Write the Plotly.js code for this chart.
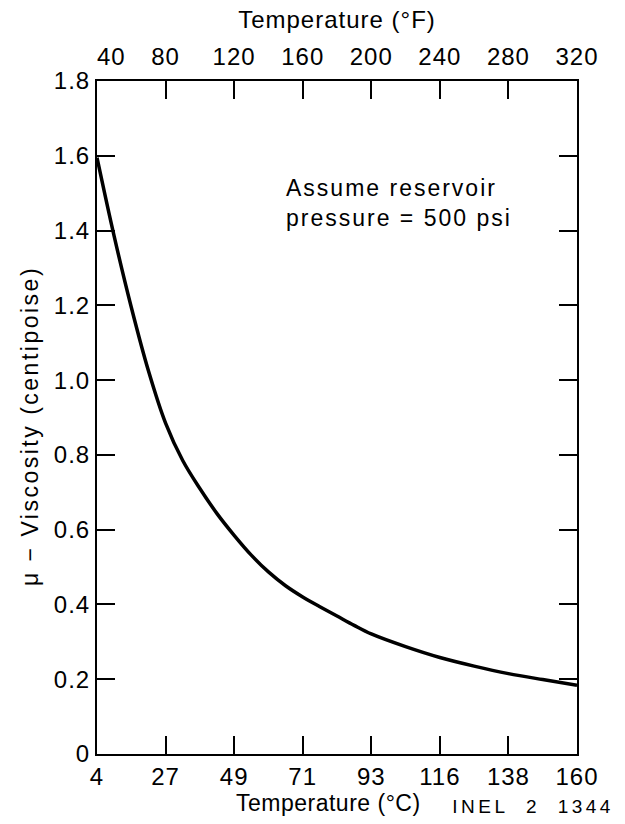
<!DOCTYPE html>
<html>
<head>
<meta charset="utf-8">
<script src="https://cdn.plot.ly/plotly-3.0.1.min.js"></script>
<style>
  html, body { margin: 0; padding: 0; background: #fff; }
  #chart { width: 625px; height: 824px; }
  /* typewriter-style tracking used throughout the figure */
  #chart .main-svg text { letter-spacing: 1px; }
  #chart g.annotation[data-index="0"] text { letter-spacing: 2px; }
  #chart g.annotation[data-index="1"] text { letter-spacing: 2.5px; }
  #chart g.annotation[data-index="2"] text { letter-spacing: 0.5px; }
  #chart g.annotation[data-index="3"] text { letter-spacing: 3.5px; }
</style>
</head>
<body>
<div id="chart"></div>
<script>
// Water viscosity versus temperature at 500 psi reservoir pressure
const tempF = [40, 50, 60, 70, 80, 90, 100, 110, 120, 130, 140, 150, 160, 170, 180, 190, 200, 220, 240, 260, 280, 300, 320];
const viscosity = [1.595, 1.385, 1.195, 1.025, 0.885, 0.785, 0.71, 0.643, 0.585, 0.532, 0.487, 0.45, 0.42, 0.394, 0.369, 0.344, 0.321, 0.287, 0.258, 0.235, 0.215, 0.199, 0.184];

// Shared tick positions (°F) with their Celsius equivalents for the bottom axis
const tickF = [40, 80, 120, 160, 200, 240, 280, 320];
const tickC = ['4', '27', '49', '71', '93', '116', '138', '160'];
const tickFText = ['\u2007\u200740', '80', '120', '160', '200', '240', '280', '320'];
const yTicks = [0, 0.2, 0.4, 0.6, 0.8, 1.0, 1.2, 1.4, 1.6, 1.8];
const yTickText = ['0', '0.2', '0.4', '0.6', '0.8', '1.0', '1.2', '1.4', '1.6', '1.8'];

const FONT = '"Liberation Sans", Arial, Helvetica, sans-serif';

const traces = [
  {
    x: tempF, y: viscosity, xaxis: 'x', yaxis: 'y',
    mode: 'lines', line: { color: '#000', width: 3.5, shape: 'spline', smoothing: 1 },
    hoverinfo: 'skip', showlegend: false
  },
  {
    // carrier trace so the °F axis on top is laid out
    x: tempF, y: viscosity, xaxis: 'x2', yaxis: 'y',
    mode: 'lines', line: { color: 'rgba(0,0,0,0)', width: 0 },
    hoverinfo: 'skip', showlegend: false
  }
];

const axisCommon = {
  showgrid: false, zeroline: false,
  showline: true, linecolor: '#000', linewidth: 2,
  ticks: 'inside', ticklen: 18, tickwidth: 2, tickcolor: '#000',
  tickfont: { family: FONT, size: 24, color: '#000' }
};

const layout = {
  width: 625, height: 824,
  margin: { l: 97, r: 48, t: 81, b: 70, pad: 0 },
  paper_bgcolor: '#fff', plot_bgcolor: '#fff',
  font: { family: FONT, color: '#000' },
  showlegend: false,
  xaxis: Object.assign({}, axisCommon, {
    range: [40, 320], tickmode: 'array', tickvals: tickF, ticktext: tickC
  }),
  xaxis2: Object.assign({}, axisCommon, {
    overlaying: 'x', side: 'top', anchor: 'y',
    range: [40, 320], tickmode: 'array', tickvals: tickF, ticktext: tickFText,
    ticklabelstandoff: 4,
    title: { text: 'Temperature (°F)', font: { family: FONT, size: 24 }, standoff: 8 }
  }),
  yaxis: Object.assign({}, axisCommon, {
    range: [0, 1.8], tickmode: 'array', tickvals: yTicks, ticktext: yTickText,
    mirror: 'ticks'
  }),
  annotations: [
    {
      xref: 'paper', yref: 'paper', x: 0.389, y: 0.864,
      xanchor: 'left', yanchor: 'top', align: 'left', showarrow: false,
      text: 'Assume reservoir<br>pressure = 500 psi',
      font: { family: FONT, size: 23, color: '#000' }
    },
    {
      xref: 'paper', yref: 'paper', x: -0.139, y: 0.487,
      xanchor: 'center', yanchor: 'middle', textangle: -90, showarrow: false,
      text: 'μ − Viscosity (centipoise)',
      font: { family: FONT, size: 23, color: '#000' }
    },
    {
      xref: 'paper', yref: 'paper', x: 0.4815, y: -0.0735,
      xanchor: 'center', yanchor: 'middle', showarrow: false,
      text: 'Temperature (°C)',
      font: { family: FONT, size: 23, color: '#000' }
    },
    {
      xref: 'paper', yref: 'paper', x: 1.035, y: -0.078,
      xanchor: 'right', yanchor: 'middle', showarrow: false,
      text: 'INEL\u00a0\u00a02\u00a0\u00a01344',
      font: { family: FONT, size: 19, color: '#000' }
    }
  ]
};

Plotly.newPlot('chart', traces, layout, { staticPlot: true, displayModeBar: false });
</script>
</body>
</html>
